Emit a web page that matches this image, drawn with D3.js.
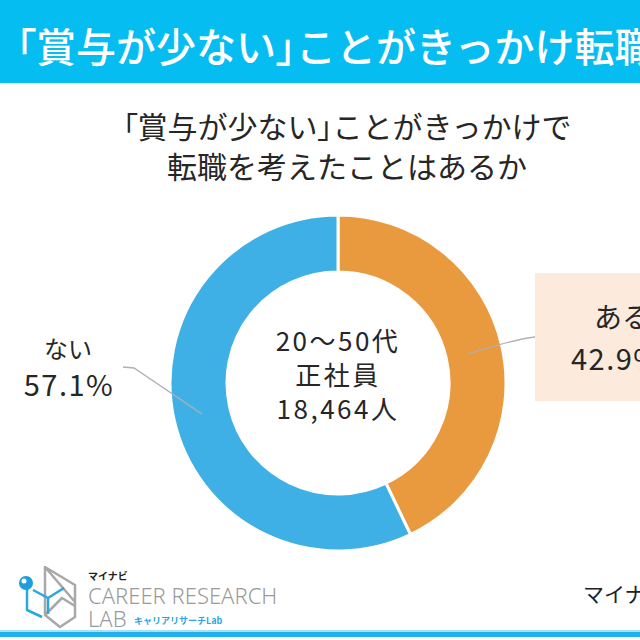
<!DOCTYPE html>
<html><head><meta charset="utf-8">
<script src="https://cdn.jsdelivr.net/npm/d3@7"></script>
<style>html,body{margin:0;padding:0;background:#fff;overflow:hidden}svg{display:block}
.palt{font-feature-settings:"palt" 1}</style>
</head><body>
<script>
const headline = "「賞与が少ない」ことがきっかけ転職";
const subtitleLines = ["「賞与が少ない」ことがきっかけで", "転職を考えたことはあるか"];
const categories = ["ある", "ない"];
const values = [42.9, 57.1];
const colors = ["#EA9A3E", "#3FB0E6"];
const centerLines = ["20～50代", "正社員", "18,464人"];
const logoTexts = ["マイナビ", "CAREER RESEARCH", "LAB", "キャリアリサーチLab"];
const sourceText = "マイナビ";

const W = 640, H = 640;
const FONT = "'Noto Sans CJK JP','Noto Sans',sans-serif";
const svg = d3.select("body").append("svg").attr("width", W).attr("height", H);

// split text so that only the corner brackets use proportional widths
function fillBracketed(sel, str) {
  const parts = str.split(/([「」])/).filter(s => s.length);
  sel.selectAll("tspan").data(parts).join("tspan")
    .attr("class", s => (s === "「" || s === "」") ? "palt" : null)
    .text(s => s);
}

// header bar
svg.append("rect").attr("x", 0).attr("y", 0).attr("width", W).attr("height", 83).attr("fill", "#06BDF2");
svg.append("text").attr("x", 16).attr("y", 62).attr("fill", "#fff")
  .attr("font-family", FONT).attr("font-size", 40).attr("font-weight", 500)
  .call(fillBracketed, headline);

// subtitle
svg.append("g").selectAll("text").data(subtitleLines).join("text")
  .attr("x", 347).attr("y", (d, i) => 138 + i * 40)
  .attr("text-anchor", "middle").attr("fill", "#262626")
  .attr("font-family", FONT).attr("font-size", 30).attr("font-weight", 400)
  .each(function (d) { d3.select(this).call(fillBracketed, d); });

// donut
const cx = 338, cy = 383, rO = 168, rI = 111;
const data = categories.map((c, i) => ({ cat: c, val: values[i], color: colors[i] }));
const pie = d3.pie().value(d => d.val).sort(null);
const arc = d3.arc().innerRadius(rI).outerRadius(rO);
const g = svg.append("g").attr("transform", `translate(${cx},${cy})`);
g.selectAll("path").data(pie(data)).join("path")
  .attr("d", arc).attr("fill", d => d.data.color)
  .attr("stroke", "#fff").attr("stroke-width", 3);

// right label box
svg.append("rect").attr("x", 535).attr("y", 273).attr("width", 120).attr("height", 128).attr("fill", "#FCEBDC");
svg.append("path").attr("d", "M535,337 C515,339 495,346 468,354").attr("fill", "none")
  .attr("stroke", "#b0b0b0").attr("stroke-width", 1.3);
svg.append("text").attr("x", 594).attr("y", 328).attr("fill", "#262626")
  .attr("font-family", FONT).attr("font-size", 28).attr("font-weight", 400).text(categories[0]);
svg.append("text").attr("x", 571).attr("y", 370).attr("fill", "#262626").attr("letter-spacing", 1.5)
  .attr("font-family", FONT).attr("font-size", 29).attr("font-weight", 400).text(values[0].toFixed(1) + "%");

// left label
svg.append("path").attr("d", "M123,367 L134,368 L202,414").attr("fill", "none")
  .attr("stroke", "#b0b0b0").attr("stroke-width", 1.3);
svg.append("text").attr("x", 68).attr("y", 358).attr("text-anchor", "middle").attr("fill", "#262626")
  .attr("font-family", FONT).attr("font-size", 24).attr("font-weight", 400).text(categories[1]);
svg.append("text").attr("x", 69).attr("y", 396).attr("text-anchor", "middle").attr("fill", "#262626").attr("letter-spacing", 1.5)
  .attr("font-family", FONT).attr("font-size", 29).attr("font-weight", 400).text(values[1].toFixed(1) + "%");

// center text
svg.append("g").selectAll("text").data(centerLines).join("text")
  .attr("x", 338).attr("y", (d, i) => 351 + i * 34)
  .attr("text-anchor", "middle").attr("fill", "#262626").attr("letter-spacing", 2.5)
  .attr("font-family", FONT).attr("font-size", 26).attr("font-weight", 400).text(d => d);

// logo
const lg = svg.append("g");
lg.append("path").attr("d", "M45,567 L45,615 L60,627 L75,617 L75,585 Z M45,567 L75,602 M45,615 L62,598 L75,606")
  .attr("fill", "none").attr("stroke", "#a8a8a8").attr("stroke-width", 2.5).attr("stroke-linejoin", "round");
lg.append("path").attr("d", "M27,586 L27,610 L42,617 M33,590 L48,598 L64,588 M48,598 L48,614")
  .attr("fill", "none").attr("stroke", "#2AA6E0").attr("stroke-width", 2.5).attr("stroke-linejoin", "round");
lg.append("circle").attr("cx", 26).attr("cy", 583).attr("r", 7).attr("fill", "#1E9FDC");
lg.append("circle").attr("cx", 24).attr("cy", 581).attr("r", 2.5).attr("fill", "#fff");
lg.append("text").attr("x", 88).attr("y", 580).attr("fill", "#222")
  .attr("font-family", FONT).attr("font-size", 10).attr("font-weight", 700).text(logoTexts[0]);
lg.append("text").attr("x", 88).attr("y", 604).attr("fill", "#9a9a9a")
  .attr("font-family", "'Noto Sans',sans-serif").attr("font-size", 22).attr("font-weight", 300).text(logoTexts[1]);
lg.append("text").attr("x", 88).attr("y", 627).attr("fill", "#9a9a9a")
  .attr("font-family", "'Noto Sans',sans-serif").attr("font-size", 22).attr("font-weight", 300).text(logoTexts[2]);
lg.append("text").attr("x", 134).attr("y", 624).attr("fill", "#2AA6E0")
  .attr("font-family", FONT).attr("font-size", 9).attr("font-weight", 700).text(logoTexts[3]);

// source (cut off)
svg.append("text").attr("x", 583).attr("y", 602).attr("fill", "#222")
  .attr("font-family", FONT).attr("font-size", 21).attr("font-weight", 400).text(sourceText);

// bottom lines
svg.append("rect").attr("x", 0).attr("y", 630).attr("width", W).attr("height", 2).attr("fill", "#A9DFF5");
svg.append("rect").attr("x", 0).attr("y", 632).attr("width", W).attr("height", 5).attr("fill", "#1FB1EB");
</script>
</body></html>
